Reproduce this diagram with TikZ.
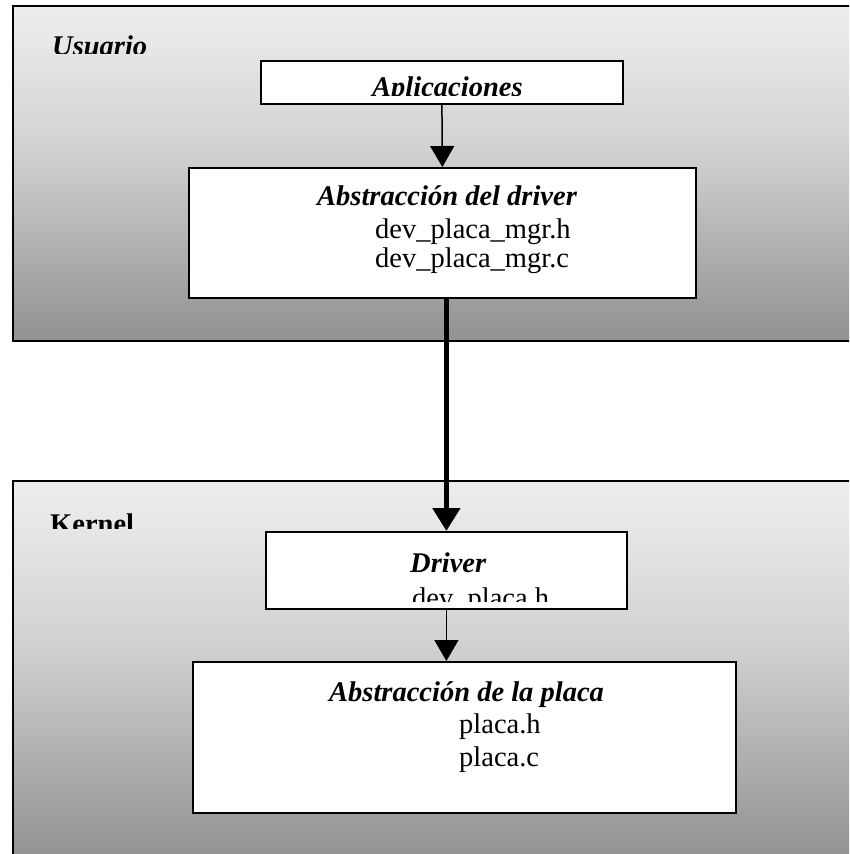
\documentclass[tikz,border=0pt]{standalone}
\usepackage{fontspec}
\setmainfont{Liberation Serif}
\usetikzlibrary{arrows.meta}
\definecolor{gA}{HTML}{777777}
\definecolor{gB}{HTML}{959595}
\definecolor{gC}{HTML}{D0D0D0}
\definecolor{gD}{HTML}{E8E8E8}
\pgfdeclareverticalshading{fade}{100bp}{color(0bp)=(gA); color(27bp)=(gB); color(53bp)=(gC); color(70bp)=(gD); color(100bp)=(white)}
\begin{document}
\begin{tikzpicture}[x=1pt,y=-1pt,
  bigbox/.style={draw=black, line width=1.8pt, shading=fade, inner sep=0pt, anchor=north west},
  whitebox/.style={draw=black, line width=1.8pt, fill=white, inner sep=0pt, anchor=north west},
  txt/.style={inner sep=0pt, anchor=base west, font=\fontsize{28.5}{33}\selectfont},
  bitxt/.style={txt, font=\fontsize{28.5}{33}\selectfont\bfseries\itshape},
  thinarrow/.style={line width=1.5pt, -{Triangle[width=24pt,length=21pt]}},
  thickarrow/.style={line width=5pt, -{Triangle[width=27pt,length=23pt]}}]
\path[use as bounding box] (0,0) rectangle (849,854);
\clip (0,0) rectangle (849,854);
\fill[white] (0,0) rectangle (849,854);

% big areas
\node[bigbox, minimum width=880pt, minimum height=335pt] (user) at (12,5) {};
\node[bigbox, minimum width=880pt, minimum height=380pt] (kern) at (12,480) {};

% boxes
\node[whitebox, minimum width=362pt, minimum height=43pt] (apps) at (260,60) {};
\node[whitebox, minimum width=507pt, minimum height=130pt] (absdrv) at (188,167) {};
\node[whitebox, minimum width=361pt, minimum height=77pt] (drv) at (265,531) {};
\node[whitebox, minimum width=543pt, minimum height=151pt] (placa) at (192,661) {};

% labels (clipped like the original text frames)
\begin{scope}
  \clip (12,5) rectangle (849,53);
  \node[bitxt] (lusr) at (52,55) {Usuario};
\end{scope}
\begin{scope}
  \clip (12,480) rectangle (849,528);
  \node[txt, font=\fontsize{28.5}{33}\selectfont\bfseries] (lkern) at (50,533) {Kernel};
\end{scope}
\begin{scope}
  \clip (260,60) rectangle (622,95);
  \node[bitxt] (lapps) at (372,96.5) {Aplicaciones};
\end{scope}
\node[bitxt] (labs1) at (317,205) {Abstracción del driver};
\node[txt] (labs2) at (375,238) {dev\_placa\_mgr.h};
\node[txt] (labs3) at (375,267) {dev\_placa\_mgr.c};
\begin{scope}
  \clip (265,531) rectangle (626,601.5);
  \node[bitxt] (ldrv1) at (410,572) {Driver};
  \node[txt] (ldrv2) at (412,607.5) {dev\_placa.h};
\end{scope}
\node[bitxt] (lpl1) at (329,701) {Abstracción de la placa};
\node[txt] (lpl2) at (459,733) {placa.h};
\node[txt] (lpl3) at (459,766) {placa.c};

% connectors
\draw[thinarrow] (apps.south) -- (absdrv.north);
\draw[thickarrow] (absdrv.south -| drv.north) -- (drv.north);
\draw[thinarrow] (drv.south) -- (drv.south |- placa.north);
\end{tikzpicture}
\end{document}
